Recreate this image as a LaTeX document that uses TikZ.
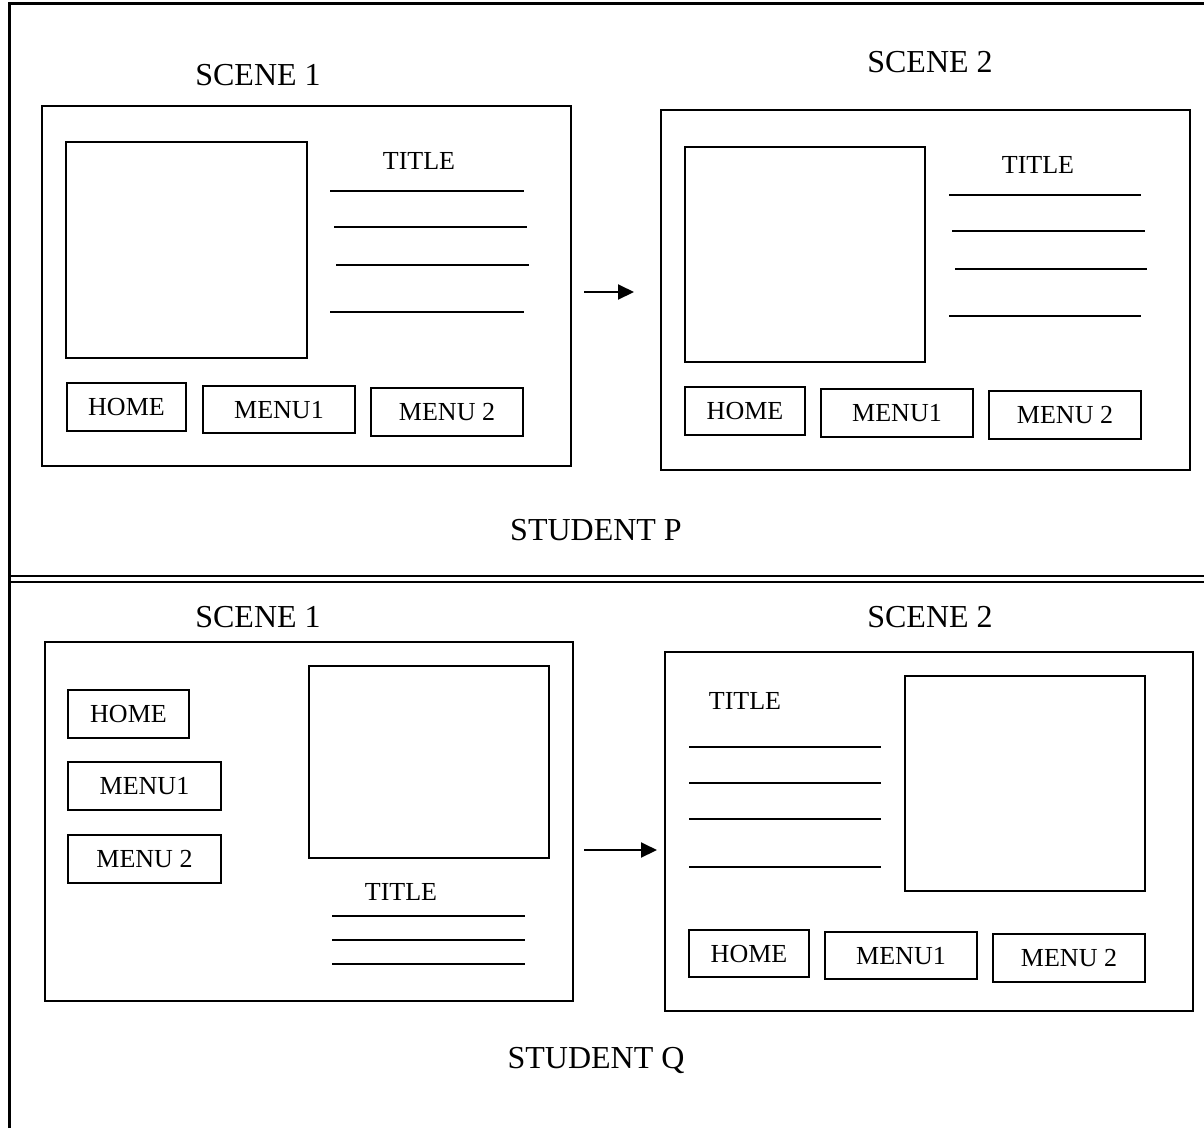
\documentclass[tikz,border=0pt]{standalone}
\usepackage{fontspec}
\setmainfont{Liberation Serif}
\usetikzlibrary{arrows.meta}
\begin{document}
\begin{tikzpicture}[x=1pt,y=-1pt,
  frameline/.style={line width=3pt},
  panel/.style={draw,line width=2pt,inner sep=0pt},
  pic/.style={draw,line width=2pt,inner sep=0pt},
  btn/.style={draw,line width=2pt,inner sep=0pt,font=\fontsize{26}{30}\selectfont,text height=17pt,text depth=0pt},
  small/.style={inner sep=0pt,font=\fontsize{26}{30}\selectfont,text height=17pt,text depth=0pt},
  big/.style={inner sep=0pt,font=\fontsize{32}{36}\selectfont,text height=21pt,text depth=0pt},
  txtline/.style={line width=2pt},
  arr/.style={line width=2pt,-{Triangle[length=16pt,width=15pt]}}]
\useasboundingbox (0,0) rectangle (1204,1128);
% outer frame
\draw[frameline] (9,1128) -- (9,3) -- (1204,3);
\draw[line width=2.2pt] (9,576) -- (1204,576);
\draw[line width=2.2pt] (9,582) -- (1204,582);

% ---------- STUDENT P ----------
\node[big] (p1t) at (258,75) {SCENE 1};
\node[big] (p2t) at (930,62) {SCENE 2};
\node[panel,minimum width=529pt,minimum height=360pt] (p1) at (306.5,286) {};
\node[pic,minimum width=241pt,minimum height=216pt] (p1img) at (186.5,250) {};
\node[small] (p1title) at (419,161) {TITLE};
\draw[txtline] (330,191) -- (524,191);
\draw[txtline] (334,227) -- (527,227);
\draw[txtline] (336,265) -- (529,265);
\draw[txtline] (330,312) -- (524,312);
\node[btn,minimum width=119pt,minimum height=48pt] (p1home) at (126.5,407) {HOME};
\node[btn,minimum width=152pt,minimum height=47pt] (p1m1) at (279,409.5) {MENU1};
\node[btn,minimum width=152pt,minimum height=48pt] (p1m2) at (447,412) {MENU 2};

\coordinate (pa) at (584,292);
\coordinate (pb) at (634,292);
\draw[arr] (pa) -- (pb);

\node[panel,minimum width=529pt,minimum height=360pt] (p2) at (925.5,290) {};
\node[pic,minimum width=240pt,minimum height=215pt] (p2img) at (805,254.5) {};
\node[small] (p2title) at (1038,165) {TITLE};
\draw[txtline] (949,195) -- (1141,195);
\draw[txtline] (952,231) -- (1145,231);
\draw[txtline] (955,269) -- (1147,269);
\draw[txtline] (949,316) -- (1141,316);
\node[btn,minimum width=120pt,minimum height=48pt] (p2home) at (745,411) {HOME};
\node[btn,minimum width=152pt,minimum height=48pt] (p2m1) at (897,413) {MENU1};
\node[btn,minimum width=152pt,minimum height=48pt] (p2m2) at (1065,415) {MENU 2};

\node[big] (sp) at (596,530) {STUDENT P};

% ---------- STUDENT Q ----------
\node[big] (q1t) at (258,617) {SCENE 1};
\node[big] (q2t) at (930,617) {SCENE 2};
\node[panel,minimum width=528pt,minimum height=359pt] (q1) at (309,821.5) {};
\node[btn,minimum width=121pt,minimum height=48pt] (q1home) at (128.5,714) {HOME};
\node[btn,minimum width=153pt,minimum height=48pt] (q1m1) at (144.5,786) {MENU1};
\node[btn,minimum width=153pt,minimum height=48pt] (q1m2) at (144.5,858.5) {MENU 2};
\node[pic,minimum width=240pt,minimum height=192pt] (q1img) at (429,762) {};
\node[small] (q1title) at (401,892) {TITLE};
\draw[txtline] (332,916) -- (525,916);
\draw[txtline] (332,940) -- (525,940);
\draw[txtline] (332,964) -- (525,964);

\coordinate (qa) at (584,850);
\coordinate (qb) at (657,850);
\draw[arr] (qa) -- (qb);

\node[panel,minimum width=528pt,minimum height=359pt] (q2) at (929,831.5) {};
\node[small] (q2title) at (745,701) {TITLE};
\draw[txtline] (689,747) -- (881,747);
\draw[txtline] (689,783) -- (881,783);
\draw[txtline] (689,819) -- (881,819);
\draw[txtline] (689,867) -- (881,867);
\node[pic,minimum width=240pt,minimum height=215pt] (q2img) at (1025,783.5) {};
\node[btn,minimum width=120pt,minimum height=47pt] (q2home) at (749,953.5) {HOME};
\node[btn,minimum width=152pt,minimum height=47pt] (q2m1) at (901,955.5) {MENU1};
\node[btn,minimum width=152pt,minimum height=48pt] (q2m2) at (1069,958) {MENU 2};

\node[big] (sq) at (596,1058) {STUDENT Q};
\end{tikzpicture}
\end{document}
